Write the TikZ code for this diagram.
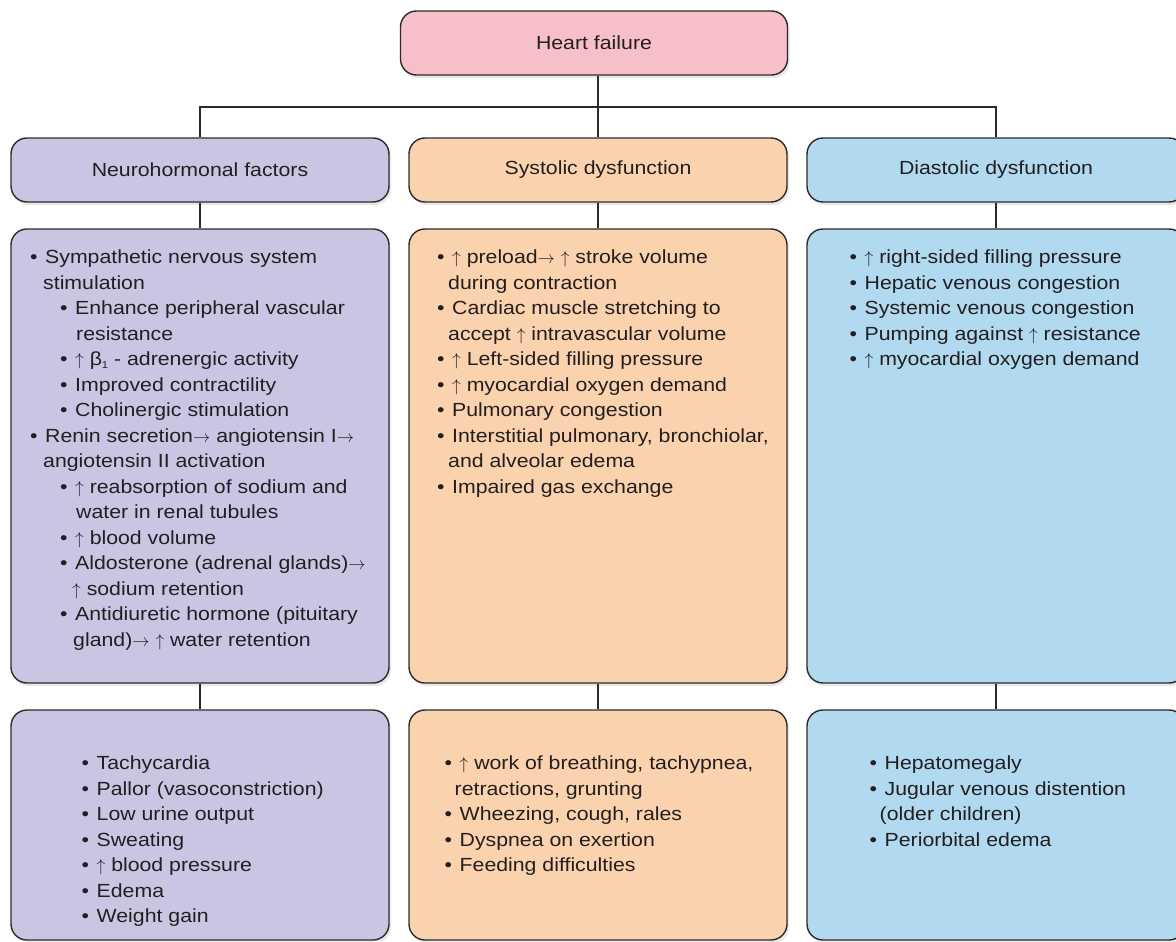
\documentclass[tikz,border=0pt]{standalone}
\usepackage{fontspec}
\setmainfont{Liberation Sans}[FakeStretch=1.12]
\usetikzlibrary{shadows}

\definecolor{hfpink}{HTML}{F7C0C9}
\definecolor{nhpurple}{HTML}{CAC5E3}
\definecolor{sdorange}{HTML}{FBD2AE}
\definecolor{ddblue}{HTML}{B1D9EF}
\definecolor{inkgray}{HTML}{231F20}
\definecolor{edgegray}{HTML}{2B2B2B}

\newcommand{\bu}{\makebox[15pt][l]{•}}
\newcommand{\incr}{$\uparrow$}
\newcommand{\yields}{$\rightarrow$}
\newcommand{\betaone}{β\raisebox{-2.5pt}{\fontsize{10}{10}\selectfont 1}}

\begin{document}
\begin{tikzpicture}[x=1pt, y=-1pt, font=\fontsize{19}{25.5}\selectfont, text=inkgray,
  cell/.style={draw=edgegray, line width=1.4pt, rounded corners=16pt, minimum width=378pt,
    inner sep=0pt, drop shadow={opacity=0.18, shadow xshift=2pt, shadow yshift=-3pt}},
  head cell/.style={cell, minimum height=64pt},
  list cell/.style={cell, minimum height=454pt},
  sign cell/.style={cell, minimum height=230pt},
  list text/.style={anchor=north west, align=left, inner sep=0pt},
  link/.style={draw=edgegray, line width=1.4pt}]

\useasboundingbox (0,0) rectangle (1176,942);

\node [head cell, fill=hfpink, minimum width=387pt] (hf) at (594,43) {Heart failure};

\foreach \n/\x/\c/\t in {nf/200/nhpurple/Neurohormonal factors,
                         sd/598/sdorange/Systolic dysfunction,
                         dd/996/ddblue/Diastolic dysfunction} {
  \node [head cell, fill=\c] (\n-head) at (\x,170) {\t};
  \node [list cell, fill=\c] (\n-list) at (\x,456) {};
  \node [sign cell, fill=\c] (\n-sign) at (\x,825) {};
  \draw [link] (\n-head) -- (\n-list);
  \draw [link] (\n-list) -- (\n-sign);
}

% tree lines from the top box
\coordinate (bus) at (598,107);
\draw [link] (hf.south -| bus) -- (bus);
\draw [link] (nf-head.north) |- (bus) -| (dd-head.north);
\draw [link] (bus) -- (sd-head.north);

% texts of the middle row
\node [list text] (nf-text) at (30,250) {%
  \bu Sympathetic nervous system\\
  \hspace*{13pt}stimulation\\
  \hspace*{30pt}\bu Enhance peripheral vascular\\
  \hspace*{46pt}resistance\\
  \hspace*{30pt}\bu \incr{} \betaone{} - adrenergic activity\\
  \hspace*{30pt}\bu Improved contractility\\
  \hspace*{30pt}\bu Cholinergic stimulation\\
  \bu Renin secretion\yields{} angiotensin I\yields\\
  \hspace*{13pt}angiotensin II activation\\
  \hspace*{30pt}\bu \incr{} reabsorption of sodium and\\
  \hspace*{46pt}water in renal tubules\\
  \hspace*{30pt}\bu \incr{} blood volume\\
  \hspace*{30pt}\bu Aldosterone (adrenal glands)\yields\\
  \hspace*{42pt}\incr{} sodium retention\\
  \hspace*{30pt}\bu Antidiuretic hormone (pituitary\\
  \hspace*{43pt}gland)\yields{} \incr{} water retention};

\node [list text] (sd-text) at (437,250) {%
  \bu \incr{} preload\yields{} \incr{} stroke volume\\
  \hspace*{11pt}during contraction\\
  \bu Cardiac muscle stretching to\\
  \hspace*{11pt}accept \incr{} intravascular volume\\
  \bu \incr{} Left-sided filling pressure\\
  \bu \incr{} myocardial oxygen demand\\
  \bu Pulmonary congestion\\
  \bu Interstitial pulmonary, bronchiolar,\\
  \hspace*{11pt}and alveolar edema\\
  \bu Impaired gas exchange};

\node [list text] (dd-text) at (849.5,250) {%
  \bu \incr{} right-sided filling pressure\\
  \bu Hepatic venous congestion\\
  \bu Systemic venous congestion\\
  \bu Pumping against \incr{} resistance\\
  \bu \incr{} myocardial oxygen demand};

% texts of the bottom row
\node [list text] (nf-signs) at (81.5,756) {%
  \bu Tachycardia\\
  \bu Pallor (vasoconstriction)\\
  \bu Low urine output\\
  \bu Sweating\\
  \bu \incr{} blood pressure\\
  \bu Edema\\
  \bu Weight gain};

\node [list text] (sd-signs) at (444.5,756) {%
  \bu \incr{} work of breathing, tachypnea,\\
  \hspace*{10pt}retractions, grunting\\
  \bu Wheezing, cough, rales\\
  \bu Dyspnea on exertion\\
  \bu Feeding difficulties};

\node [list text] (dd-signs) at (869.5,756) {%
  \bu Hepatomegaly\\
  \bu Jugular venous distention\\
  \hspace*{10pt}(older children)\\
  \bu Periorbital edema};

\end{tikzpicture}
\end{document}
